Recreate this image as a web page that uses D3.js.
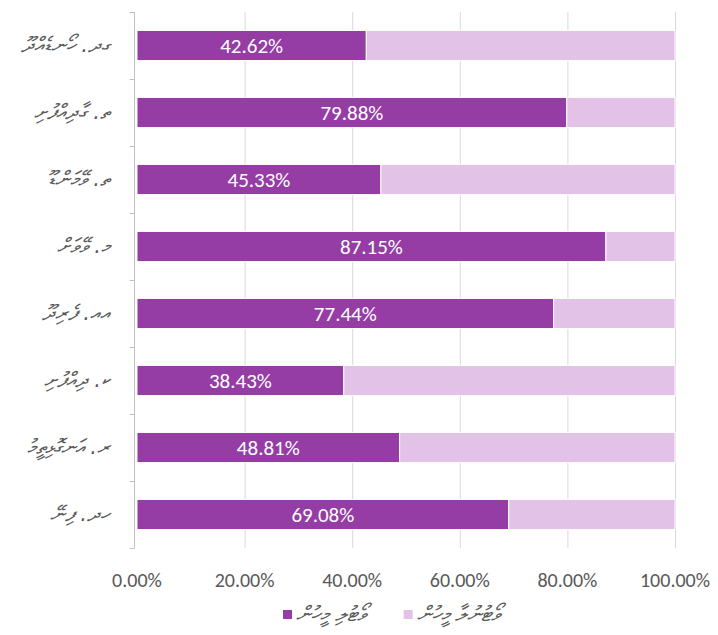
<!DOCTYPE html>
<html>
<head>
<meta charset="utf-8">
<script src="https://cdn.jsdelivr.net/npm/d3@7"></script>
<style>
  body { margin: 0; background: #fff; }
  text { font-family: Carlito, "Open Sans", "DejaVu Sans", sans-serif; }
  .thaana { font-family: "DejaVu Sans", sans-serif; }
</style>
</head>
<body>
<div class="turnout-chart"></div>
<script>
// islands, top to bottom
const islands = [
    "ގދ. ހޯނޑެއްދޫ",
    "ތ. ގާދިއްފުށި",
    "ތ. ވޭމަންޑޫ",
    "މ. ވޭވަށް",
    "އއ. ފެރިދޫ",
    "ކ. ދިއްފުށި",
    "ރ. އަނގޮޅިތީމު",
    "ހދ. ފިނޭ"
];
// share of people who voted (%)
const voted = [42.62, 79.88, 45.33, 87.15, 77.44, 38.43, 48.81, 69.08];
// share who did not vote (%)
const notVoted = [57.38, 20.12, 54.67, 12.85, 22.56, 61.57, 51.19, 30.92];
const seriesNames = ["ވޯޓުލި މީހުން", "ވޯޓުނުލާ މީހުން"];
const xTicks = [0, 20, 40, 60, 80, 100];

const width = 718, height = 635;
const margin = {top: 12, right: 43, bottom: 87, left: 137};

const svg = d3.select(".turnout-chart")
    .append("svg")
    .attr("width", width)
    .attr("height", height);

const x = d3.scaleLinear()
    .domain([0, 100])
    .range([margin.left, width - margin.right]);

const y = d3.scaleBand()
    .domain(islands)
    .range([margin.top, height - margin.bottom])
    .paddingInner(0.55)
    .paddingOuter(0.275);

const color = d3.scaleOrdinal()
    .domain(seriesNames)
    .range(["#953DA5", "#E3C2E8"]);

// gridlines
svg.append("g")
    .selectAll("line")
    .data(xTicks.slice(1))
    .enter()
    .append("line")
    .attr("x1", d => x(d) + 0.5)
    .attr("x2", d => x(d) + 0.5)
    .attr("y1", margin.top)
    .attr("y2", height - margin.bottom)
    .attr("stroke", "#d9d9d9")
    .attr("stroke-width", 1);

// stacked bars
const rows = islands.map((name, i) => ({name, voted: voted[i], notVoted: notVoted[i]}));
const stack = d3.stack().keys(["voted", "notVoted"])(rows);

svg.append("g")
    .selectAll("g")
    .data(stack)
    .enter()
    .append("g")
    .attr("fill", (d, i) => color(seriesNames[i]))
    .selectAll("rect")
    .data(d => d)
    .enter()
    .append("rect")
    .attr("x", d => x(d[0]))
    .attr("y", d => y(d.data.name))
    .attr("width", d => x(d[1]) - x(d[0]))
    .attr("height", y.bandwidth())
    .attr("stroke", "#fff")
    .attr("stroke-width", 1);

// value labels
svg.append("g")
    .selectAll("text")
    .data(rows)
    .enter()
    .append("text")
    .attr("x", d => x(d.voted / 2))
    .attr("y", d => y(d.name) + y.bandwidth() / 2)
    .attr("dy", "0.35em")
    .attr("text-anchor", "middle")
    .attr("fill", "#fff")
    .attr("font-size", 21)
    .text(d => d.voted.toFixed(2) + "%");

// y axis line with outside ticks at category boundaries
const axisX = margin.left - 2.5;
const yAxis = svg.append("g").attr("stroke", "#bfbfbf").attr("stroke-width", 1);
yAxis.append("line")
    .attr("x1", axisX).attr("x2", axisX)
    .attr("y1", margin.top).attr("y2", height - margin.bottom);
const step = y.step();
yAxis.selectAll(".tick")
    .data(d3.range(islands.length + 1))
    .enter()
    .append("line")
    .attr("class", "tick")
    .attr("x1", axisX - 5).attr("x2", axisX)
    .attr("y1", i => margin.top + i * step + 0.5)
    .attr("y2", i => margin.top + i * step + 0.5);

// y labels
svg.append("g")
    .selectAll("text")
    .data(islands)
    .enter()
    .append("text")
    .attr("class", "thaana")
    .attr("x", 110)
    .attr("y", d => y(d) + y.bandwidth() / 2)
    .attr("dy", "0.3em")
    .attr("text-anchor", "end")
    .attr("fill", "#595959")
    .attr("font-size", 21)
    .attr("font-style", "italic")
    .text(d => d);

// x tick labels
svg.append("g")
    .selectAll("text")
    .data(xTicks)
    .enter()
    .append("text")
    .attr("x", d => x(d))
    .attr("y", 587)
    .attr("text-anchor", "middle")
    .attr("fill", "#595959")
    .attr("font-size", 20)
    .text(d => d.toFixed(2) + "%");

// legend
const legend = svg.append("g");
const items = legend.selectAll("g")
    .data(seriesNames)
    .enter()
    .append("g");
items.append("rect")
    .attr("width", 9)
    .attr("height", 9)
    .attr("y", -5)
    .attr("fill", d => color(d));
items.append("text")
    .attr("class", "thaana")
    .attr("x", 13)
    .attr("dy", "0.3em")
    .attr("fill", "#595959")
    .attr("font-size", 21)
    .attr("font-style", "italic")
    .text(d => d);
let lx = 283;
items.each(function () {
    d3.select(this).attr("transform", `translate(${lx}, 615)`);
    lx += 13 + d3.select(this).select("text").node().getComputedTextLength() + 38;
});
</script>
</body>
</html>
